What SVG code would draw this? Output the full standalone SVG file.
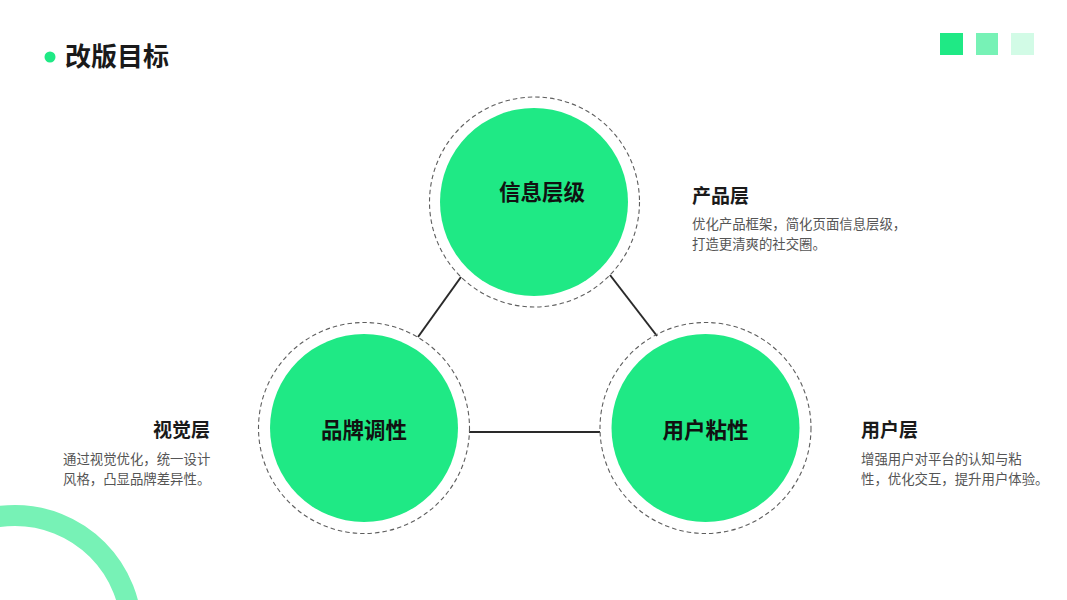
<svg xmlns="http://www.w3.org/2000/svg" width="1067" height="600" viewBox="0 0 1067 600">
<style>
text{font-family:"Noto Sans CJK SC","Noto Sans",sans-serif}
.title{font-size:26px;font-weight:700;fill:#1a1a1a}
.node{fill:#1fe985}
.ring{fill:none;stroke:#5e5e5e;stroke-width:1.1;stroke-dasharray:4.5 3}
.lbl{font-size:21.5px;font-weight:700;fill:#111;text-anchor:middle}
.h{font-size:19px;font-weight:700;fill:#1a1a1a}
.b{font-size:13.4px;fill:#555}
.edge{stroke:#2a2a2a;stroke-width:2;fill:none}
</style>
<rect width="1067" height="600" fill="#fff"/>
<g id="header">
<circle cx="50" cy="57" r="5.5" fill="#1fe985"/>
<text class="title" x="65" y="66">改版目标</text>
<rect x="940" y="33" width="23" height="22" fill="#1fe985"/>
<rect x="976" y="33" width="22" height="22" fill="#77f2b6"/>
<rect x="1011" y="33" width="23" height="22" fill="#d2fbe6"/>
</g>
<circle cx="15" cy="632" r="116.5" fill="none" stroke="#77f2b6" stroke-width="21"/>
<g id="connectors">
<line class="edge" x1="461" y1="277" x2="418" y2="337"/>
<line class="edge" x1="610" y1="275" x2="657" y2="336"/>
<line class="edge" x1="469" y1="432" x2="600" y2="432"/>
</g>
<g id="node-info">
<circle class="ring" cx="534.5" cy="202" r="105"/>
<circle class="node" cx="534" cy="202" r="94"/>
<text class="lbl" x="542" y="200">信息层级</text>
</g>
<g id="node-brand">
<circle class="ring" cx="364" cy="428" r="105.5"/>
<circle class="node" cx="364" cy="428" r="94"/>
<text class="lbl" x="364" y="438">品牌调性</text>
</g>
<g id="node-user">
<circle class="ring" cx="705.5" cy="428" r="105.5"/>
<circle class="node" cx="705.5" cy="428" r="94"/>
<text class="lbl" x="705.5" y="438">用户粘性</text>
</g>
<g id="desc-product">
<text class="h" x="692" y="203">产品层</text>
<text class="b" x="692" y="229">优化产品框架，简化页面信息层级，</text>
<text class="b" x="692" y="249">打造更清爽的社交圈。</text>
</g>
<g id="desc-visual">
<text class="h" x="210" y="437" text-anchor="end">视觉层</text>
<text class="b" x="63" y="464">通过视觉优化，统一设计</text>
<text class="b" x="63" y="484">风格，凸显品牌差异性。</text>
</g>
<g id="desc-user">
<text class="h" x="861" y="437">用户层</text>
<text class="b" x="861" y="464">增强用户对平台的认知与粘</text>
<text class="b" x="861" y="484">性，优化交互，提升用户体验。</text>
</g>
</svg>
